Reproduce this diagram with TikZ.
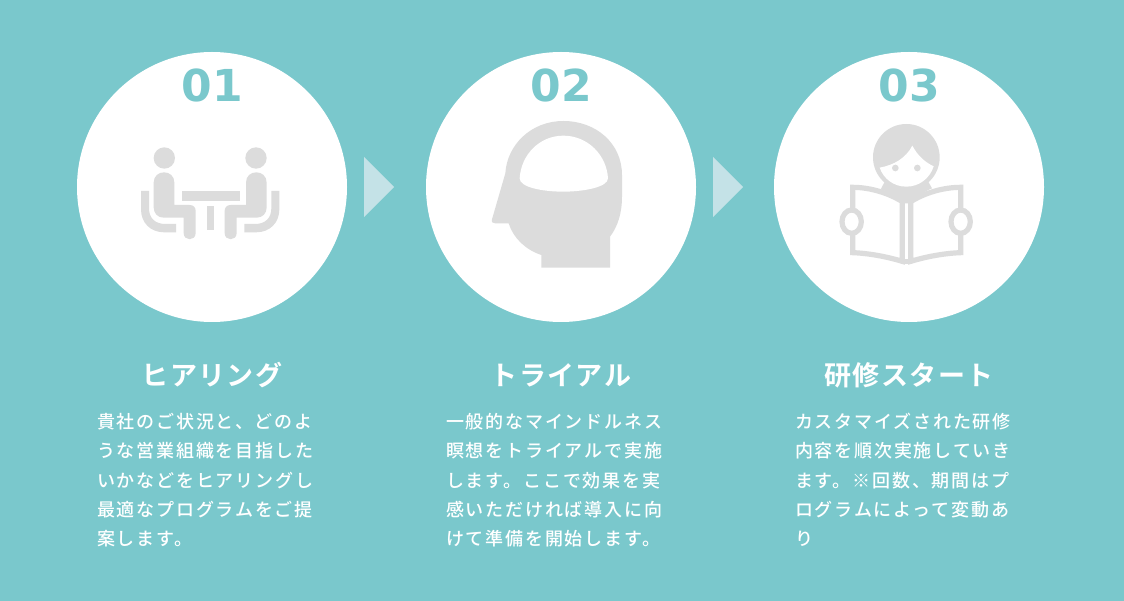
\documentclass[tikz,border=0pt]{standalone}
\usepackage{fontspec}
\newfontfamily\jpfont[LetterSpace=10]{Noto Sans CJK JP Medium}
\newfontfamily\jptitle[LetterSpace=5]{Noto Sans CJK JP Bold}
\newfontfamily\numfont{DejaVu Sans Bold}
\definecolor{teal1}{HTML}{7AC8CC}
\definecolor{palearrow}{HTML}{C4E2E7}
\definecolor{icongray}{HTML}{DCDCDC}
\tikzset{
	stepcircle/.style={circle,fill=white,draw=none,minimum size=270pt,inner sep=0pt},
	stepnum/.style={color=teal1,inner sep=0pt,font=\numfont\fontsize{44}{44}\selectfont},
	steptitle/.style={color=white,inner sep=0pt,font=\jptitle\fontsize{27}{30}\selectfont},
	stepbody/.style={color=white,inner sep=0pt,anchor=north west,align=left,font=\jpfont\fontsize{18}{29.3}\selectfont},
	iconline/.style={draw=icongray,line width=5.2pt,fill=none},
}
\begin{document}
\begin{tikzpicture}[x=1pt,y=-1pt]
	\useasboundingbox (0,0) rectangle (1124,601);
	\fill [teal1] (0,0) rectangle (1124,601);
	% circles, numbers, titles
	\foreach \n/\cx/\num/\head in {one/212/01/ヒアリング,two/561/02/トライアル,three/909/03/研修スタート}{
		\node [stepcircle] (circ\n) at (\cx,187) {};
		\node [stepnum] (num\n) at (\cx,85.5) {\num};
		\node [steptitle] (title\n) at (\cx,375) {\head};
	}
	% body texts
	\node [stepbody] (bodyone) at (97,413) {貴社のご状況と、どのよ\\うな営業組織を目指した\\いかなどをヒアリングし\\最適なプログラムをご提\\案します。};
	\node [stepbody] (bodytwo) at (446,413) {一般的なマインドルネス\\瞑想をトライアルで実施\\します。ここで効果を実\\感いただければ導入に向\\けて準備を開始します。};
	\node [stepbody] (bodythree) at (795,413) {カスタマイズされた研修\\内容を順次実施していき\\ます。※回数、期間はプ\\ログラムによって変動あ\\り};
	% arrows
	\foreach \ax in {364,713}{
		\fill [palearrow] (\ax,157) -- (\ax+30,187) -- (\ax,217) -- cycle;
	}
	% icon 1
	\begin{scope}[shift={(77,50)},scale=1/3]
		\fill [icongray] (316,424) rectangle (488,452);
		\fill [icongray] (390,467) rectangle (411,540);
		\foreach \s/\ox in {1/0,-1/799}{
			\begin{scope}[shift={(\ox,0)},xscale=\s]
				\fill [icongray] (262,324) circle (32);
				\fill [icongray] (230,398) .. controls (230,378) and (245,367) .. (261,367) .. controls (278,367) and (292,378) .. (292,398) -- (292,465) -- (338,465) .. controls (350,465) and (356,473) .. (356,483) -- (356,549) .. controls (356,574) and (320,574) .. (320,549) -- (320,503) -- (260,503) .. controls (242,503) and (230,490) .. (230,472) -- cycle;
				\fill [icongray] (192,423) -- (216,423) -- (216,475) .. controls (216,505) and (235,522) .. (265,522) -- (297,522) -- (297,547) -- (262,547) .. controls (220,547) and (192,518) .. (192,478) -- cycle;
			\end{scope}
		}
	\end{scope}
	% icon 2
	\begin{scope}[shift={(426,50)},scale=1/3]
		\fill [icongray] (346,653) -- (552,653) -- (552,560) .. controls (575,530) and (588,490) .. (588,440) -- (588,375) .. controls (588,280) and (510,213) .. (412,213) .. controls (315,213) and (243,285) .. (238,370) -- (198,508) .. controls (196,517) and (200,520) .. (208,520) -- (248,520) .. controls (262,565) and (300,600) .. (346,615) -- cycle;
		\fill [white] (281,385) .. controls (285,315) and (340,257) .. (412,257) .. controls (485,257) and (542,315) .. (546,385) .. controls (546,412) and (470,425) .. (412,425) .. controls (350,425) and (281,412) .. (281,385) -- cycle;
	\end{scope}
	% icon 3
	\begin{scope}[shift={(774,50)},scale=1/3]
		\fill [icongray] (397,322) circle (100);
		\fill [icongray] (335,390) -- (320,418) .. controls (345,425) and (365,440) .. (380,460) -- (415,460) .. controls (430,440) and (450,425) .. (474,415) -- (460,390) -- cycle;
		\fill [white] (317,353) .. controls (360,345) and (395,325) .. (415,287) .. controls (430,315) and (450,335) .. (479,349) .. controls (468,385) and (435,410) .. (397,410) .. controls (358,410) and (328,385) .. (317,353) -- cycle;
		\fill [icongray] (364,354) circle (10);
		\fill [icongray] (430,354) circle (10);
		\draw [iconline] (385,455) .. controls (345,430) and (290,412) .. (236,412) -- (236,608) .. controls (290,610) and (345,622) .. (385,634) -- cycle;
		\draw [iconline] (410,455) .. controls (450,430) and (505,412) .. (560,412) -- (560,608) .. controls (505,610) and (450,622) .. (410,634) -- cycle;
		\draw [iconline,line cap=round] (385,634) -- (410,634);
		\draw [iconline,fill=white] (233,515) ellipse (29 and 35);
		\draw [iconline,fill=white] (560,515) ellipse (29 and 35);
	\end{scope}
\end{tikzpicture}
\end{document}
